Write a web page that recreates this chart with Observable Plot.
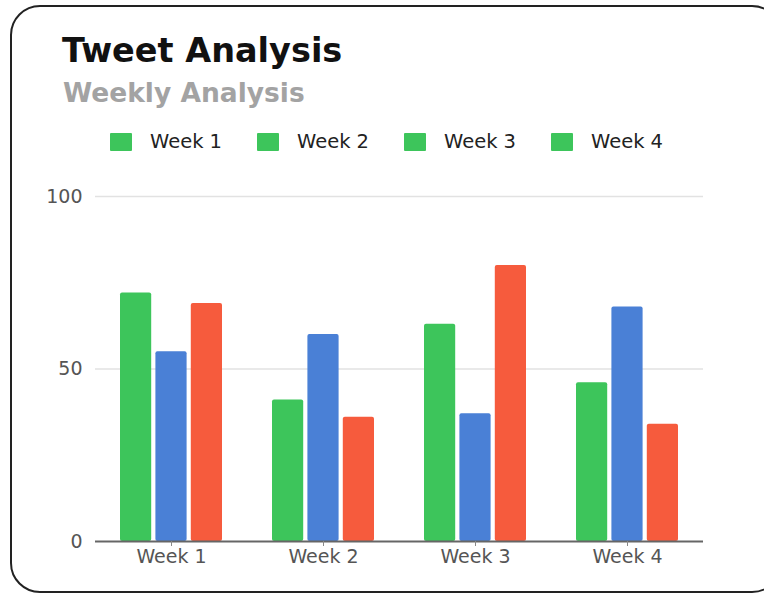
<!DOCTYPE html>
<html>
<head>
<meta charset="utf-8">
<script src="https://cdn.jsdelivr.net/npm/d3@7"></script>
<script src="https://cdn.jsdelivr.net/npm/@observablehq/plot@0.6"></script>
<style>
  html, body { margin: 0; padding: 0; background: #fff; }
  body { width: 764px; height: 595px; overflow: hidden; position: relative; font-family: "DejaVu Sans", sans-serif; }
  #frame { position: absolute; left: 10px; top: 5px; width: 772px; height: 588px; border: 2px solid #222; border-radius: 30px; box-sizing: border-box; }
  #title { position: absolute; left: 62px; top: 34px; font-size: 33.5px; line-height: 33.5px; font-weight: bold; color: #111; white-space: nowrap; }
  #subtitle { position: absolute; left: 63px; top: 80px; font-size: 26.5px; line-height: 26.5px; font-weight: bold; color: #a3a3a3; white-space: nowrap; }
  #legend { position: absolute; left: 0; top: 0; }
  .item { position: absolute; top: 132px; height: 19px; }
  .sw { position: absolute; left: 0; top: 1px; width: 22px; height: 18px; border-radius: 1px; }
  .lb { position: absolute; left: 40px; top: 0; font-size: 19.5px; line-height: 19px; color: #222; white-space: nowrap; }
  #chart { position: absolute; left: 0; top: 170px; }
</style>
</head>
<body>
<div id="frame"></div>
<div id="title"></div>
<div id="subtitle"></div>
<div id="legend"></div>
<div id="chart"></div>
<script>
// ---- data ----
const titleText = "Tweet Analysis";
const subtitleText = "Weekly Analysis";
const weeks = ["Week 1", "Week 2", "Week 3", "Week 4"];
const seriesA = [72, 41, 63, 46];   // green
const seriesB = [55, 60, 37, 68];   // blue
const seriesC = [69, 36, 80, 34];   // red
const legendLabels = ["Week 1", "Week 2", "Week 3", "Week 4"];
const yTicks = [0, 50, 100];

// ---- style ----
const colors = ["#3dc55b", "#4a80d6", "#f65b3d"];
const legendColor = "#3dc55b";
const legendX = [110, 257, 404, 551];

document.getElementById("title").textContent = titleText;
document.getElementById("subtitle").textContent = subtitleText;
const leg = document.getElementById("legend");
legendLabels.forEach((t, i) => {
  const it = document.createElement("div");
  it.className = "item";
  it.style.left = legendX[i] + "px";
  const sw = document.createElement("div");
  sw.className = "sw";
  sw.style.background = legendColor;
  const lb = document.createElement("div");
  lb.className = "lb";
  lb.textContent = t;
  it.appendChild(sw); it.appendChild(lb);
  leg.appendChild(it);
});

const series = [seriesA, seriesB, seriesC];
const step = 35.4; // bar slot within a group
const bars = series.map((vals, i) =>
  Plot.barY(weeks.map((w, j) => ({week: w, value: vals[j]})), {
    x: "week", y: "value", fill: colors[i], rx: 2,
    insetLeft: i * step, insetRight: (2 - i) * step
  })
);

const chart = Plot.plot({
  width: 764,
  height: 400,
  marginLeft: 95,
  marginRight: 61,
  marginTop: 26,
  marginBottom: 29,
  style: { fontFamily: "DejaVu Sans, sans-serif", fontSize: "19px", color: "#555", background: "transparent" },
  x: { domain: weeks, paddingInner: 0.33, paddingOuter: 0.165, axis: null },
  y: { domain: [0, 100], axis: null },
  marks: [
    Plot.gridY([50, 100], { stroke: "#e2e2e2", strokeOpacity: 1, strokeWidth: 1.5 }),
    ...bars,
    Plot.ruleY([0], { stroke: "#666", strokeWidth: 2 }),
    Plot.axisY(yTicks, { tickSize: 0, tickPadding: 13, fontSize: 19, fill: "#555", label: null }),
    Plot.axisX({ tickSize: 5, tickPadding: 3, fontSize: 19, fill: "#555", stroke: "#888", label: null })
  ]
});
document.getElementById("chart").appendChild(chart);
</script>
</body>
</html>
